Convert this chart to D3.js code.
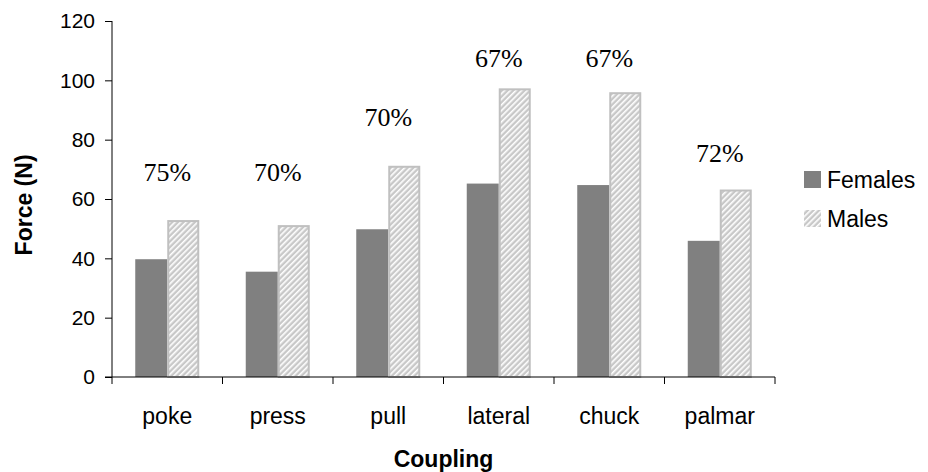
<!DOCTYPE html>
<html>
<head>
<meta charset="utf-8">
<script src="https://cdn.jsdelivr.net/npm/d3@7"></script>
<style>
  body { margin: 0; background: #fff; }
  text { font-family: Arial, "Liberation Sans", sans-serif; }
</style>
</head>
<body>
<svg id="chart" width="928" height="472"></svg>
<script>
// Data
const couplings = ["poke", "press", "pull", "lateral", "chuck", "palmar"];
const females = [39.7, 35.5, 49.8, 65.2, 64.7, 45.9];
const males = [52.9, 51.2, 71.2, 97.3, 96.0, 63.2];
const ratio_labels = ["75%", "70%", "70%", "67%", "67%", "72%"];
const label_heights = [68.8, 68.8, 87.6, 107.5, 107.5, 75.5]; // in N
const y_ticks = [0, 20, 40, 60, 80, 100, 120];

const svg = d3.select("#chart");
const margin = { left: 112, right: 153, top: 21, bottom: 95 };
const width = 928, height = 472;
const font_size = "23px";

const x = d3.scaleBand()
  .domain(couplings)
  .range([margin.left, width - margin.right]);
const y = d3.scaleLinear().domain([0, 120]).range([height - margin.bottom, margin.top]);

// Hatch pattern for males
const defs = svg.append("defs");
const pat = defs.append("pattern")
  .attr("id", "hatch")
  .attr("patternUnits", "userSpaceOnUse")
  .attr("width", 4)
  .attr("height", 4)
  .attr("patternTransform", "rotate(45)");
pat.append("rect").attr("width", 4).attr("height", 4).attr("fill", "#c8c8c8");
pat.append("rect").attr("x", 0).attr("width", 1.6).attr("height", 4).attr("fill", "#ffffff");

const bar_w = 32;

// Bars
const groups = svg.append("g").attr("class", "bars")
  .selectAll("g")
  .data(couplings)
  .join("g");

groups.append("rect")
  .attr("x", (d) => x(d) + x.bandwidth() / 2 - bar_w)
  .attr("y", (d, i) => y(females[i]))
  .attr("width", bar_w)
  .attr("height", (d, i) => y(0) - y(females[i]))
  .attr("fill", "#808080");

groups.append("rect")
  .attr("x", (d) => x(d) + x.bandwidth() / 2 + 1)
  .attr("y", (d, i) => y(males[i]) + 1)
  .attr("width", bar_w - 2)
  .attr("height", (d, i) => y(0) - y(males[i]) - 1)
  .attr("fill", "url(#hatch)")
  .attr("stroke", "#c0c0c0")
  .attr("stroke-width", 2);

// Percent labels
groups.append("text")
  .attr("x", (d) => x(d) + x.bandwidth() / 2)
  .attr("y", (d, i) => y(label_heights[i]))
  .attr("text-anchor", "middle")
  .attr("dominant-baseline", "central")
  .style("font-family", "'Liberation Serif', 'Times New Roman', serif")
  .style("font-size", "26px")
  .text((d, i) => ratio_labels[i]);

// Y axis
const y_axis = svg.append("g")
  .attr("transform", `translate(${margin.left},0)`)
  .call(d3.axisLeft(y).tickValues(y_ticks).tickSize(7).tickPadding(10));
y_axis.select(".domain").attr("stroke", "#000").attr("d", `M0,${y(0)}V${y(120)}`);
y_axis.selectAll("text").style("font-size", "21px").attr("fill", "#000");

// X axis
const x_axis = svg.append("g")
  .attr("transform", `translate(0,${y(0)})`);
x_axis.append("line")
  .attr("x1", margin.left - 7).attr("x2", width - margin.right)
  .attr("stroke", "#000");
x_axis.selectAll("line.tick")
  .data(couplings.concat(["end"]))
  .join("line")
  .attr("class", "tick")
  .attr("x1", (d, i) => i < couplings.length ? x(d) : x.range()[1])
  .attr("x2", (d, i) => i < couplings.length ? x(d) : x.range()[1])
  .attr("y1", 0).attr("y2", 7)
  .attr("stroke", "#000");
x_axis.selectAll("text")
  .data(couplings)
  .join("text")
  .attr("x", (d) => x(d) + x.bandwidth() / 2)
  .attr("y", 39)
  .attr("text-anchor", "middle")
  .attr("dominant-baseline", "central")
  .style("font-size", font_size)
  .text((d) => d);

// Axis titles
svg.append("text")
  .attr("x", (margin.left + width - margin.right) / 2)
  .attr("y", 459)
  .attr("text-anchor", "middle")
  .attr("dominant-baseline", "central")
  .style("font-size", font_size)
  .style("font-weight", "bold")
  .text("Coupling");

svg.append("text")
  .attr("transform", `translate(24,${y(58)}) rotate(-90)`)
  .attr("text-anchor", "middle")
  .attr("dominant-baseline", "central")
  .style("font-size", font_size)
  .style("font-weight", "bold")
  .text("Force (N)");

// Legend
const legend_items = [
  { name: "Females", fill: "#808080" },
  { name: "Males", fill: "url(#hatch)" }
];
const legend = svg.append("g").attr("id", "legend")
  .selectAll("g")
  .data(legend_items)
  .join("g")
  .attr("transform", (d, i) => `translate(804,${171 + i * 39})`);
legend.append("rect")
  .attr("width", 17).attr("height", 17)
  .attr("fill", (d) => d.fill);
legend.append("text")
  .attr("x", 23).attr("y", 9)
  .attr("dominant-baseline", "central")
  .style("font-size", font_size)
  .text((d) => d.name);
</script>
</body>
</html>
